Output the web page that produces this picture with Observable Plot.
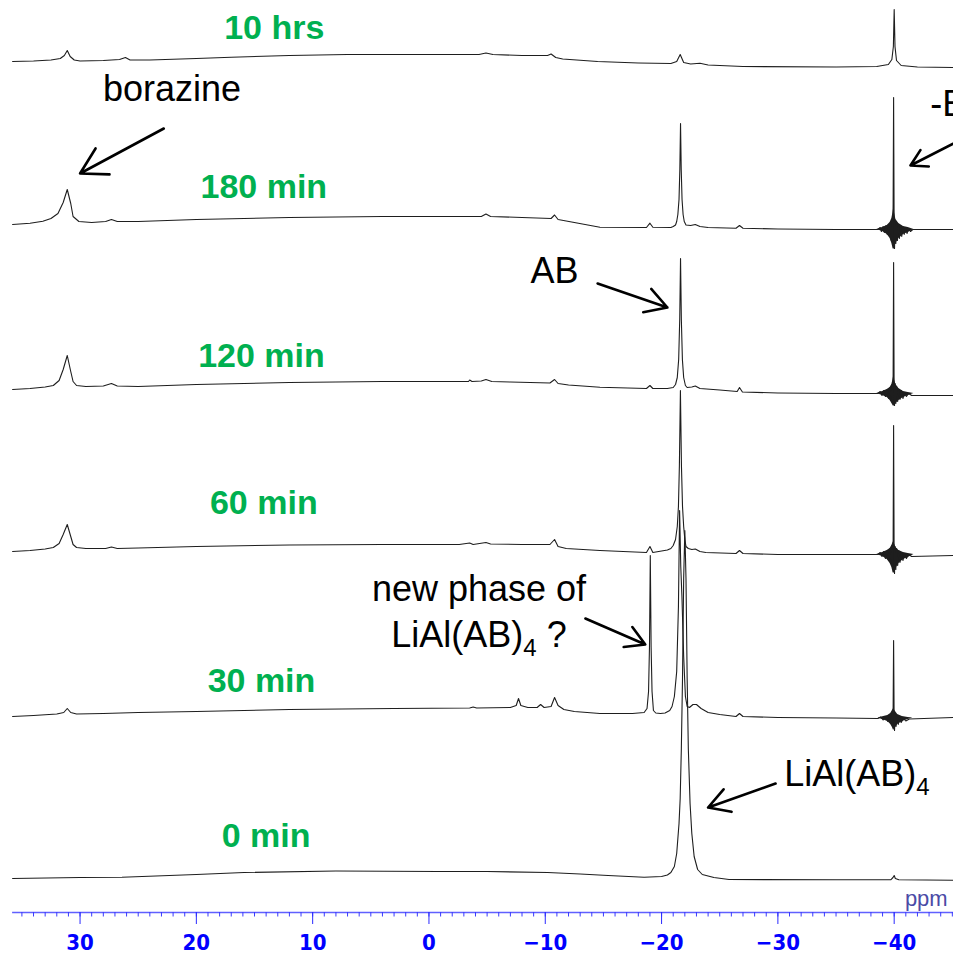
<!DOCTYPE html>
<html>
<head>
<meta charset="utf-8">
<script src="https://cdn.jsdelivr.net/npm/d3@7"></script>
<script src="https://cdn.jsdelivr.net/npm/@observablehq/plot@0.6"></script>
<style>
  html, body { margin: 0; padding: 0; background: #fff; }
  #chart svg { display: block; }
</style>
</head>
<body>
<div id="chart"></div>
<script>
// ---- data ----
const seriesNames = ["10 hrs", "180 min", "120 min", "60 min", "30 min", "0 min"];
const seriesLevels = [851, 688, 523, 361, 196, 34];     // baseline offset of each trace (stack units)
const labelPpm = [13.3, 14.2, 14.4, 14.2, 14.4, 14.0];
const labelRise = [23, 27, 23, 38, 25, 32];

// [ppm, intensity above the trace's own offset]
const spec10h = [[35.8,0],[34,0.5],[32.5,1.5],[31.7,3],[31.35,6],[31.1,11],[30.85,5],[30.5,1.5],[30,0.5],[28,1],[26.6,2],[26.1,4],[25.7,1.5],[24,1.5],[20,3],[17,4.3],[12,6],[7,7],[1,7],[-4.3,7],[-4.9,8.5],[-5.5,7],[-8,6],[-10.2,6],[-10.5,7.5],[-10.9,4],[-11.5,2.5],[-14.5,0],[-18,-1.5],[-20.8,-2],[-21.3,0],[-21.6,7],[-21.9,-1],[-22.5,-2.5],[-23.3,-1.8],[-24,-3.5],[-27,-5],[-35,-5.5],[-38.5,-5],[-39.5,-3],[-39.8,2],[-39.93,15],[-40.0,52],[-40.07,15],[-40.2,1],[-40.6,-4],[-42,-5.5],[-45.1,-6]];

const spec180 = [[35.8,0],[34.3,1.3],[33.2,3.3],[32.5,6],[31.9,11],[31.45,22],[31.1,35],[30.8,21],[30.6,8],[30.1,3],[29,2],[27.8,3],[27.3,5],[26.8,3],[25,3],[20,5],[12,7],[4,8],[-2,8],[-4.5,8],[-4.9,10.5],[-5.3,8],[-8,7],[-10.5,6],[-10.8,9.5],[-11.1,5],[-12.5,2],[-14.7,-2.7],[-18.7,-3],[-19.0,1.3],[-19.25,-2.7],[-20.8,-3],[-21.0,-2],[-21.2,-0.5],[-21.3,3],[-21.4,10],[-21.5,25],[-21.57,55],[-21.63,101],[-21.69,55],[-21.76,25],[-21.85,10],[-21.95,3],[-22.1,-0.5],[-22.5,-1],[-22.9,0],[-23.3,-2],[-24,-3],[-26.4,-3.7],[-26.7,-1],[-27,-3.7],[-30,-4.5],[-35,-5],[-38.0,-5],[-38.6,-5],[-38.8,-3],[-38.9,-7],[-39.05,-2],[-39.15,-8],[-39.3,-1],[-39.4,-10],[-39.5,0],[-39.6,-12],[-39.68,2],[-39.75,-16],[-39.82,5],[-39.87,-20],[-39.91,20],[-39.95,127],[-39.99,15],[-40.03,-24],[-40.08,4],[-40.14,-19],[-40.2,2],[-40.28,-16],[-40.36,0],[-40.45,-14],[-40.55,-1],[-40.65,-12],[-40.75,-2],[-40.86,-10],[-40.98,-3],[-41.1,-9],[-41.25,-4],[-41.4,-7],[-41.6,-5],[-45.1,-5]];

const spec120 = [[35.8,0],[34.3,1],[33,2.5],[32.3,4],[31.8,9],[31.45,20],[31.1,34],[30.8,18],[30.6,8],[30.3,4],[29.5,3],[28,3.5],[27.3,6],[26.8,3.5],[25,3],[20,5],[12,7],[4,8],[-2,8],[-3.4,8],[-3.5,9.5],[-3.7,8],[-4.5,8.5],[-4.9,10],[-5.4,8],[-7,7.5],[-10.4,6.5],[-10.8,10],[-11.1,6],[-12,4.5],[-14.7,2.3],[-18.7,1],[-19.0,4],[-19.25,1],[-20.5,1],[-21.0,2],[-21.2,5],[-21.35,12],[-21.47,30],[-21.56,70],[-21.63,131],[-21.7,70],[-21.79,30],[-21.9,12],[-22.05,4],[-22.2,2],[-22.6,2.5],[-22.9,3.5],[-23.3,1],[-25,-0.5],[-26.5,-2],[-26.7,2],[-26.95,-2.5],[-30,-3.5],[-35,-4],[-38.6,-4],[-38.8,-2],[-38.95,-6],[-39.1,-1],[-39.25,-7],[-39.4,0],[-39.52,-9],[-39.63,2],[-39.73,-11],[-39.81,5],[-39.87,-14],[-39.91,14],[-39.95,127],[-39.99,12],[-40.03,-16],[-40.08,6],[-40.14,-14],[-40.21,3],[-40.3,-12],[-40.4,0],[-40.5,-10],[-40.62,-1],[-40.75,-9],[-40.9,-3],[-41.05,-7],[-41.25,-4],[-41.5,-6],[-45.1,-6]];

const spec60 = [[35.8,0],[34.3,1],[33,2.5],[32.3,4],[31.8,8],[31.45,17],[31.1,27],[30.8,15],[30.6,7],[30.3,4],[29.5,3],[27.8,3],[27.3,4.5],[26.8,3],[25,3.5],[20,5],[12,6.5],[4,7],[-2.6,7],[-3.5,8.5],[-3.8,7],[-4.9,9],[-5.3,7.5],[-8,7],[-10.4,7],[-10.8,12],[-11.1,5],[-11.8,3],[-14.7,1],[-18.7,-1],[-19.0,5],[-19.25,-1],[-20.5,1.5],[-20.8,3],[-21.0,6],[-21.2,12],[-21.35,25],[-21.45,45],[-21.53,85],[-21.62,161],[-21.71,85],[-21.8,45],[-21.9,25],[-22.0,12],[-22.1,5],[-22.3,3],[-22.6,2],[-22.9,2.5],[-23.3,0],[-23.8,-1],[-26.4,-2],[-26.7,1],[-27,-2],[-30,-3],[-35,-3],[-38.6,-3],[-38.8,-1],[-38.95,-5],[-39.1,0],[-39.25,-7],[-39.4,1],[-39.52,-9],[-39.63,3],[-39.73,-12],[-39.81,6],[-39.87,-17],[-39.91,9],[-39.95,126],[-39.99,8],[-40.03,-22],[-40.08,5],[-40.14,-18],[-40.21,3],[-40.3,-14],[-40.4,1],[-40.5,-11],[-40.62,-1],[-40.75,-9],[-40.9,-2],[-41.05,-7],[-41.25,-3],[-41.5,-5],[-45.1,-4]];

const spec30 = [[35.8,0],[34,1],[32,2.5],[31.4,4],[31.1,8],[30.8,4],[30.3,2.5],[28,3],[25,4],[20,5],[12,7],[3,8],[-3.5,8.5],[-3.8,9.5],[-4.1,8.5],[-7,9],[-7.5,11],[-7.7,18],[-7.9,11],[-8.5,9],[-9.3,9],[-9.6,12],[-9.9,9],[-10.5,10],[-10.8,19],[-11.1,11],[-11.6,7],[-12.5,5],[-14.7,3],[-17.5,3],[-18.5,4],[-18.75,8],[-18.88,25],[-18.96,70],[-19.03,161],[-19.1,70],[-19.18,25],[-19.3,6],[-19.5,3.5],[-19.9,3],[-20.3,3.5],[-20.7,6],[-20.9,10],[-21.1,20],[-21.3,45],[-21.45,110],[-21.55,206],[-21.65,150],[-21.75,120],[-21.9,60],[-22.05,20],[-22.2,10],[-22.4,9],[-22.7,12],[-23.0,12],[-23.4,8],[-24,4],[-25,2],[-26.4,0],[-26.7,3],[-27,0],[-30,-1],[-35,-1.5],[-38.6,-2],[-38.85,-0.5],[-39.05,-3.5],[-39.25,0],[-39.45,-5],[-39.6,1],[-39.72,-7],[-39.81,3],[-39.87,-10],[-39.91,8],[-39.95,76],[-39.99,7],[-40.03,-14],[-40.09,3],[-40.16,-10],[-40.25,1],[-40.35,-8],[-40.48,-0.5],[-40.6,-6],[-40.8,-2],[-41.0,-4.5],[-41.3,-2.5],[-45.1,-1]];

const spec0 = [[35.8,0],[30,1],[26.4,1.3],[20,4],[15.9,6],[8,7.5],[-0.8,7],[-5,7],[-10.2,6],[-13,4.5],[-15.4,3],[-18.5,1.3],[-20.0,2],[-20.5,3.5],[-20.8,6],[-21.1,12],[-21.3,25],[-21.5,55],[-21.6,80],[-21.7,130],[-21.8,200],[-21.9,300],[-22.0,348],[-22.1,300],[-22.2,200],[-22.3,130],[-22.45,75],[-22.6,45],[-22.8,22],[-23.1,9],[-23.5,4],[-24.5,1],[-25.8,-1],[-35,-1.3],[-39.7,-1.3],[-39.9,1],[-40.0,3],[-40.1,0],[-40.4,-1.3],[-45.1,-1.7]];

const spectra = [spec10h, spec180, spec120, spec60, spec30, spec0];

// envelope of the dense ringing around the -40 ppm line: [ppm, upper, lower]
const ring180 = [[-38.5,-5,-5],[-39.0,-3,-7],[-39.4,-1,-10],[-39.65,2,-14],[-39.8,6,-19],[-39.9,12,-24],[-39.95,16,-25],[-40.02,12,-24],[-40.15,5,-19],[-40.4,1,-14],[-40.8,-2,-10],[-41.2,-3,-8],[-41.7,-5,-5]];
const ring120 = [[-38.5,-4,-4],[-39.0,-2,-6],[-39.4,0,-8],[-39.65,2,-11],[-39.8,5,-14],[-39.9,10,-16],[-39.95,13,-17],[-40.02,10,-16],[-40.15,5,-14],[-40.4,1,-11],[-40.8,-2,-8],[-41.2,-3,-6],[-41.7,-4,-4]];
const ring60 = [[-38.5,-3,-3],[-39.0,-1,-5],[-39.4,1,-8],[-39.65,3,-12],[-39.8,6,-16],[-39.9,9,-21],[-39.95,10,-22],[-40.02,8,-21],[-40.15,4,-17],[-40.4,1,-12],[-40.8,-1,-8],[-41.2,-2,-6],[-41.7,-3,-3]];
const ring30 = [[-38.6,-1.5,-1.5],[-39.1,0,-3.5],[-39.45,1,-5],[-39.7,3,-8],[-39.85,6,-11],[-39.95,8,-14],[-40.05,6,-12],[-40.3,2,-8],[-40.7,0,-5],[-41.2,-1,-3],[-41.6,-1.5,-1.5]];
const rings = [null, ring180, ring120, ring60, ring30, null];

const majorTicks = [30, 20, 10, 0, -10, -20, -30, -40];
const minorTicks = d3.range(35, -46, -1);
const axisStart = 35.8, axisEnd = -45.1;

const noteTexts = ["borazine", "AB", "new phase of", "LiAl(AB)₄ ?", "LiAl(AB)₄"];
const notePpm = [22.1, -10.8, -4.3, -4.3, -36.8];
const noteY = [812, 630, 312, 266, 127];
const edgeNote = "-BH₄", edgeNotePpm = -43.1, edgeNoteY = 797;

const arrowFrom = [[22.8, 784], [-14.5, 629], [-45.6, 772], [-13.45, 294], [-29.8, 129]];
const arrowTo   = [[30.0, 739], [-20.5, 605], [-41.4, 747], [-18.6, 268], [-24.0, 105]];

// ---- build tables ----
const rows = [];
spectra.forEach((arr, i) => arr.forEach(([p, v]) => rows.push({s: seriesNames[i], ppm: p, y: seriesLevels[i] + v})));
const ringRows = [];
rings.forEach((arr, i) => arr && arr.forEach(([p, hi, lo]) => ringRows.push({s: seriesNames[i], ppm: p, hi: seriesLevels[i] + hi, lo: seriesLevels[i] + lo})));
const labels = seriesNames.map((n, i) => ({text: n, ppm: labelPpm[i], y: seriesLevels[i] + labelRise[i]}));
const notes = noteTexts.map((t, i) => ({text: t, ppm: notePpm[i], y: noteY[i]}));
const arrows = arrowFrom.map((f, i) => ({x1: f[0], y1: f[1], x2: arrowTo[i][0], y2: arrowTo[i][1]}));

const fmt = d => d < 0 ? "\u2212" + (-d) : String(d);
const tickFont = "'Liberation Sans Narrow', 'DejaVu Sans Condensed', sans-serif";

const chart = Plot.plot({
  width: 953, height: 957,
  marginLeft: 0, marginRight: 0, marginTop: 0, marginBottom: 45,
  x: {domain: [36.84, -45.1], axis: null, label: null},
  y: {domain: [0, 912], axis: null, label: null},
  style: {fontFamily: "'Liberation Sans', Arial, sans-serif", background: "#fff", overflow: "hidden"},
  marks: [
    Plot.ruleY([0], {x1: axisStart, x2: axisEnd, stroke: "#6060ff", strokeWidth: 1.6}),
    Plot.ruleX(minorTicks, {x: d => d, y1: 0, y2: -4.5, stroke: "#3a3aff", strokeWidth: 1}),
    Plot.ruleX(majorTicks, {x: d => d, y1: 0, y2: -12, stroke: "#2a2aff", strokeWidth: 1}),
    Plot.text(majorTicks, {x: d => d, y: -30, text: fmt, fill: "#0000ff", fontSize: 22, fontWeight: "bold",
      fontFamily: tickFont, textAnchor: "middle", lineAnchor: "middle"}),
    Plot.text(["ppm"], {x: -44.6, y: 7, text: d => d, textAnchor: "end", lineAnchor: "bottom",
      fill: "#4b4ba6", fontSize: 22}),
    Plot.areaY(ringRows, {x: "ppm", y1: "lo", y2: "hi", z: "s", fill: "#1e1e1e", curve: "linear"}),
    Plot.line(rows, {x: "ppm", y: "y", z: "s", stroke: "#1e1e1e", strokeWidth: 1.1, curve: "linear"}),
    Plot.text(labels, {x: "ppm", y: "y", text: "text", fill: "#00b050", fontSize: 34, fontWeight: "bold",
      textAnchor: "middle", lineAnchor: "bottom"}),
    Plot.text(notes, {x: "ppm", y: "y", text: "text", fill: "#000", fontSize: 36,
      textAnchor: "middle", lineAnchor: "bottom"}),
    Plot.text([edgeNote], {x: edgeNotePpm, y: edgeNoteY, text: d => d, fill: "#000", fontSize: 36,
      textAnchor: "start", lineAnchor: "bottom"}),
    Plot.arrow(arrows, {x1: "x1", y1: "y1", x2: "x2", y2: "y2", stroke: "#000", strokeWidth: 2.6,
      headLength: 17, headAngle: 60})
  ]
});

// turn the "₄" into a real subscript
const NS = "http://www.w3.org/2000/svg";
chart.querySelectorAll("text").forEach(t => {
  if (t.children.length) return;
  const s = t.textContent;
  if (!s.includes("₄")) return;
  const [a, b] = s.split("₄");
  const fs = parseFloat(t.getAttribute("font-size") || getComputedStyle(t).fontSize) || 36;
  t.textContent = "";
  const t1 = document.createElementNS(NS, "tspan"); t1.textContent = a;
  const t2 = document.createElementNS(NS, "tspan"); t2.textContent = "4";
  t2.setAttribute("font-size", Math.round(fs * 0.66)); t2.setAttribute("dy", Math.round(fs * 0.24));
  t.append(t1, t2);
  if (b) {
    const t3 = document.createElementNS(NS, "tspan"); t3.textContent = b;
    t3.setAttribute("dy", -Math.round(fs * 0.24));
    t.append(t3);
  }
});

document.getElementById("chart").append(chart);
</script>
</body>
</html>
